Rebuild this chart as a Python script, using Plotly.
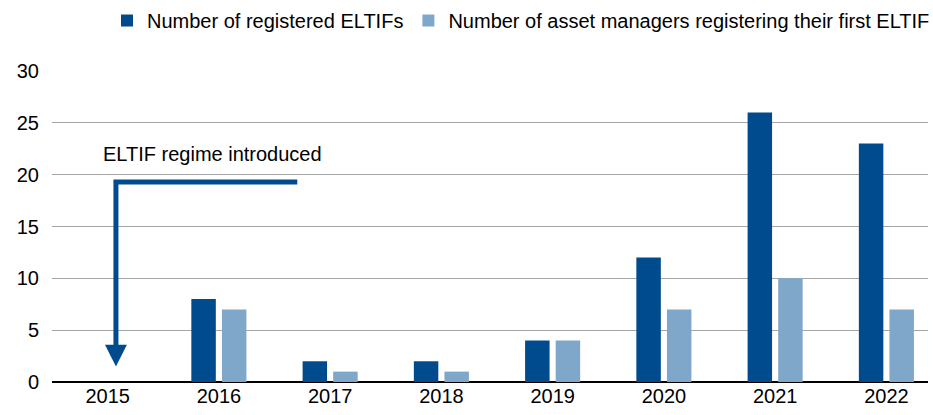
import plotly.graph_objects as go

years = ["2015", "2016", "2017", "2018", "2019", "2020", "2021", "2022"]
registered = [0, 8, 2, 2, 4, 12, 26, 23]
first_time = [0, 7, 1, 1, 4, 7, 10, 7]
series_names = ["Number of registered ELTIFs", "Number of asset managers registering their first ELTIF"]
y_ticks = [0, 5, 10, 15, 20, 25, 30]

DARK = "#004B8D"
LIGHT = "#7FA7CA"
FONT = "Liberation Sans, Arial, sans-serif"
FS = 20

fig = go.Figure()
fig.add_trace(go.Bar(x=years, y=registered, name=series_names[0], marker_color=DARK,
                     marker_line_width=0))
fig.add_trace(go.Bar(x=years, y=first_time, name=series_names[1], marker_color=LIGHT,
                     marker_line_width=0))

# Annotation arrow (horizontal then down)
ax_ = 0.073
hw = 0.0125
fig.add_shape(type="path", xref="paper", yref="y",
              path=f"M 0.28 19.3 L {ax_} 19.3 L {ax_} 3.4",
              line=dict(color=DARK, width=5))
fig.add_shape(type="path", xref="paper", yref="y",
              path=f"M {ax_-hw} 3.6 L {ax_+hw} 3.6 L {ax_} 1.5 Z",
              fillcolor=DARK, line=dict(color=DARK, width=0))
fig.add_annotation(xref="paper", yref="y", x=0.183, y=22.0, text="ELTIF regime introduced",
                   showarrow=False, font=dict(size=FS, color="#000000", family=FONT),
                   xanchor="center", yanchor="middle")

fig.update_layout(
    width=933, height=415,
    margin=dict(l=52, r=5, t=71, b=33, autoexpand=False),
    plot_bgcolor="white", paper_bgcolor="white",
    font=dict(family=FONT, size=FS, color="#000000"),
    barmode="group", bargap=0.45, bargroupgap=0.2,
    showlegend=True,
    legend=dict(orientation="h", x=1.008, xanchor="right", y=1.225, yanchor="top",
                font=dict(size=FS), itemwidth=30, traceorder="normal"),
    xaxis=dict(showgrid=False, ticks="", showline=False, automargin=False,
               range=[-0.5, 7.374]),
    yaxis=dict(range=[0, 30], tickvals=y_ticks, showgrid=True, gridcolor="#A6A6A6",
               gridwidth=1, zeroline=True, zerolinecolor="#000000", zerolinewidth=1.5,
               ticks="", ticklabelstandoff=12, automargin=False),
)

fig.write_html("out.html", post_script="document.body.style.margin='0';",
               config={"displayModeBar": False})
